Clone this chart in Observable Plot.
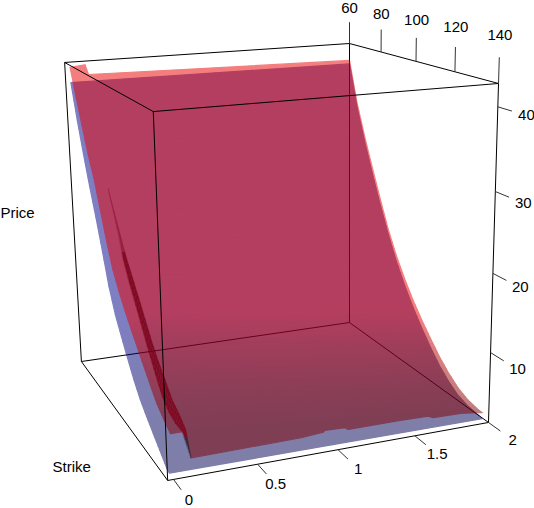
<!doctype html><html><head><meta charset="utf-8"><style>html,body{margin:0;padding:0;background:#fff}svg{display:block}</style></head><body>
<script src="https://cdn.jsdelivr.net/npm/d3@7"></script><script src="https://cdn.jsdelivr.net/npm/@observablehq/plot@0.6"></script>
<script>
// ---- data
const strikes=[60,65,70,75,80,85,90,95,100,105,110,115,120,125,130,135,137];
const maturityTicks=[0,0.5,1,1.5,2];
const strikeTicks=[60,80,100,120,140];
const priceTicks=[10,20,30,40];
const bluePriceT0=[40.0,35.4,31.3,27.5,24.0,20.2,16.2,13.3,11.2,9.2,7.3,5.7,4.5,3.4,2.3,1.2,1.0];
const bluePriceT1=[39.9,34.7,30.4,26.4,22.7,19.0,15.4,12.6,10.4,8.3,6.4,4.8,3.5,2.5,1.7,1.0,0.9];
const bluePriceT2=[39.8,34.0,29.5,25.4,21.5,17.9,14.7,12.0,9.6,7.5,5.6,3.9,2.6,1.6,1.1,0.9,0.8];
const redFlapMaturity=[0,.03,.03,.03,.03,.03,.03,.03,.03,.03,.03,.03,.03,.03,.03,.03];
const redFlapPrice=[42.0,34.6,31.3,28.6,25.1,21.5,18.4,16.3,14.5,12.9,11.4,9.9,8.4,7.0,6.1,5.3];
const redInnerMaturity=[.1,.1,.1,.12,.115,.11,.1,.1,.1,.1,.1,.1,.1,.1,.1,.1,.13];
const redInnerPrice=[42.2,38.8,34.0,27.0,24.6,22.2,19.6,17.1,15.0,12.8,10.6,8.6,6.7,5.7,5.3,5.3,2.4];
const redOuterMaturity=[.12,.12,.12,.12,.12,.12,.12,.12,.12,.12,.12,.12,.12,.12,.12,.12,.13];
const redOuterPrice=[40.9,36.7,31.5,27.0,24.5,22.1,19.7,17.8,15.9,13.9,11.9,10.2,8.8,7.3,6.5,5.5,2.4];
const redPriceT1=[40.6,35.5,30.9,26.6,23.4,20.3,17.6,15.4,13.2,11.2,9.3,7.6,6.2,4.9,4.2,3.6];
const redPriceT2=[40.3,34.6,30.2,26.2,22.3,18.6,15.5,12.9,10.6,8.6,6.8,5.1,3.7,2.6,1.9,1.6];
const redFrontMaturity=[.13,.80,.94,.95,1.08,1.10,1.44,1.63,1.66,1.86,2.0];
const redFrontPrice=[2.4,2.5,2.7,2.9,2.8,2.5,2.5,2.4,2.1,2.0,1.6];

// ---- camera: fitted to the eight corners of the box as seen in the picture
const U=[-0.034,2],V=[60,140],Z=[0.9,42.7];
const view=[[0,0,0,81,361],[1,0,0,349,322],[1,1,0,488,422],[0,1,0,167,480],[0,0,1,64,62],[1,0,1,349,43],[1,1,1,498,83],[0,1,1,153,111]];
function solve(A,b){const m=A.length;A=A.map((r,i)=>[...r,b[i]]);for(let i=0;i<m;i++){let p=i;for(let k=i;k<m;k++)if(Math.abs(A[k][i])>Math.abs(A[p][i]))p=k;[A[i],A[p]]=[A[p],A[i]];for(let k=0;k<m;k++)if(k!=i){const f=A[k][i]/A[i][i];for(let j=i;j<=m;j++)A[k][j]-=f*A[i][j];}}return A.map((r,i)=>r[m]/r[i]);}
const rows=[],rhs=[];for(const [a,b,d,x,y] of view){rows.push([a,b,d,1,0,0,0,0,-x*a,-x*b,-x*d]);rhs.push(x);rows.push([0,0,0,0,a,b,d,1,-y*a,-y*b,-y*d]);rhs.push(y);}
const P=solve(d3.range(11).map(i=>d3.range(11).map(j=>d3.sum(rows,r=>r[i]*r[j]))),d3.range(11).map(i=>d3.sum(rows,(r,k)=>r[i]*rhs[k])));
function project(u,v,z){const a=(u-U[0])/(U[1]-U[0]),b=(v-V[0])/(V[1]-V[0]),d=(z-Z[0])/(Z[1]-Z[0]),w=P[8]*a+P[9]*b+P[10]*d+1;return[(P[0]*a+P[1]*b+P[2]*d+P[3])/w,(P[4]*a+P[5]*b+P[6]*d+P[7])/w];}

// ---- shading
const lit=z=>Math.min(1,Math.max(0,(z-1)/11));
const redShade=z=>`rgb(${Math.round(100+135*lit(z))},0,0)`;
const blueShade=z=>`rgb(0,0,${Math.round(85+50*lit(z))})`;
const foldShade=z=>z<5?"rgb(50,35,50)":z>20?"rgb(150,25,55)":"rgb(128,0,22)";

// ---- polygons: each mesh cell is cut into thin bands so that the shade runs smoothly
let id=0;
function poly(out,corners,c){id++;for(const [u,v,z] of corners){const [x,y]=project(u,v,z);out.push({id,x,y,c});}}
const mix=(a,b,t)=>a+(b-a)*t;
function cell(out,a,b,shade,ref){
  return i=>{const n=4;for(let s=0;s<n;s++){
    const pt=(r,t)=>[mix(r[0](i),r[0](i+1),t),mix(strikes[i],strikes[i+1],t),mix(r[1][i],r[1][i+1],t)];
    const t0=s/n,t1=(s+1)/n,tm=(t0+t1)/2;
    const rz=mix(ref[i],ref[Math.min(i+1,ref.length-1)],tm);
    poly(out,[pt(a,t0),pt(b,t0),pt(b,t1),pt(a,t1)],shade(rz));
  }};
}
const at=arr=>i=>arr[i],k=c=>()=>c;
const blue=[],red=[],fold=[];
d3.range(strikes.length-1).forEach(cell(blue,[k(0),bluePriceT0],[k(1),bluePriceT1],blueShade,bluePriceT1));
d3.range(strikes.length-1).forEach(cell(blue,[k(1),bluePriceT1],[k(2),bluePriceT2],blueShade,bluePriceT1));
const inner=[at(redInnerMaturity),redInnerPrice],outer=[at(redOuterMaturity),redOuterPrice],flap=[at(redFlapMaturity),redFlapPrice];
d3.range(15).forEach(cell(red,flap,inner,redShade,redPriceT1));
d3.range(3).forEach(cell(red,inner,outer,redShade,redPriceT1));
d3.range(3,16).forEach(cell(fold,inner,outer,foldShade,redOuterPrice));
d3.range(15).forEach(cell(red,outer,[k(1),redPriceT1],redShade,redPriceT1));
d3.range(15).forEach(cell(red,[k(1),redPriceT1],[k(2),redPriceT2],redShade,redPriceT1));
poly(red,[[.12,135,redOuterPrice[15]],[1,135,redPriceT1[15]],[2,135,redPriceT2[15]],...redFrontMaturity.map((m,i)=>[m,137,redFrontPrice[i]]).reverse()],redShade(redPriceT1[15]-.3));

// ---- box
const edge=(a,b)=>{const p=project(...a),q=project(...b);return{x1:p[0],y1:p[1],x2:q[0],y2:q[1]};};
const [u0,u1]=U,[v0,v1]=V,[z0,z1]=Z;
const backEdges=[edge([u1,v0,z0],[u1,v0,z1]),edge([u0,v0,z0],[u1,v0,z0]),edge([u1,v0,z0],[u1,v1,z0])];
const frontEdges=[edge([u0,v0,z1],[u1,v0,z1]),edge([u0,v0,z0],[u0,v0,z1]),edge([u1,v0,z1],[u1,v1,z1]),edge([u0,v0,z1],[u0,v1,z1]),edge([u0,v1,z1],[u1,v1,z1]),edge([u0,v1,z0],[u0,v1,z1]),edge([u1,v1,z0],[u1,v1,z1]),edge([u0,v0,z0],[u0,v1,z0]),edge([u0,v1,z0],[u1,v1,z0])];
const ticks=[...maturityTicks.map(t=>edge([t,v1,z0],[t,v1+5.5,z0])),...strikeTicks.map(t=>edge([u1,t,z1],[u1,t,z1+3])),...priceTicks.map(t=>edge([u1,v1,t],[u1,v1+6,t]))];
const lab=(text,p)=>({text:String(text),x:p[0],y:p[1]});
const labels=[...maturityTicks.map(t=>lab(t,project(t,v1+11,z0))),...strikeTicks.map(t=>lab(t,project(u1,t,z1+5+.45*(t-60)/80))),...priceTicks.map(t=>lab(t,project(u1,v1+12,t)))];
const linkOpts={x1:"x1",y1:"y1",x2:"x2",y2:"y2",stroke:"#000",strokeWidth:1};
const sheet=(data,opacity,strokeWidth)=>Plot.line(data,{x:"x",y:"y",z:"id",fill:"c",stroke:"c",strokeWidth,curve:"linear-closed",
  render(i,s,v,d,c,next){const g=next(i,s,v,d,c);g.setAttribute("opacity",opacity);return g;}});
const font="Liberation Sans, Arial, sans-serif";
const chart=Plot.plot({width:534,height:508,margin:0,
 x:{domain:[0,534],range:[0,534],axis:null},y:{domain:[0,508],range:[0,508],axis:null},color:{type:"identity"},style:{background:"#fff"},
 marks:[
  Plot.link(backEdges,linkOpts),
  sheet(blue,.5,1.2),sheet(red,.5,1.2),sheet(fold,.9,.4),
  Plot.link(frontEdges,linkOpts),
  Plot.link(ticks,{...linkOpts,stroke:"#333"}),
  Plot.text(labels,{x:"x",y:"y",text:"text",fontSize:15,fontFamily:font,fill:"#000"}),
  Plot.text(["Price"],{frameAnchor:"top-left",dx:0,dy:207,fontSize:15,fontFamily:font,fill:"#000"}),
  Plot.text(["Strike"],{frameAnchor:"top-left",dx:52,dy:461,fontSize:15,fontFamily:font,fill:"#000"})
 ]});
document.body.appendChild(chart);
</script></body></html>
